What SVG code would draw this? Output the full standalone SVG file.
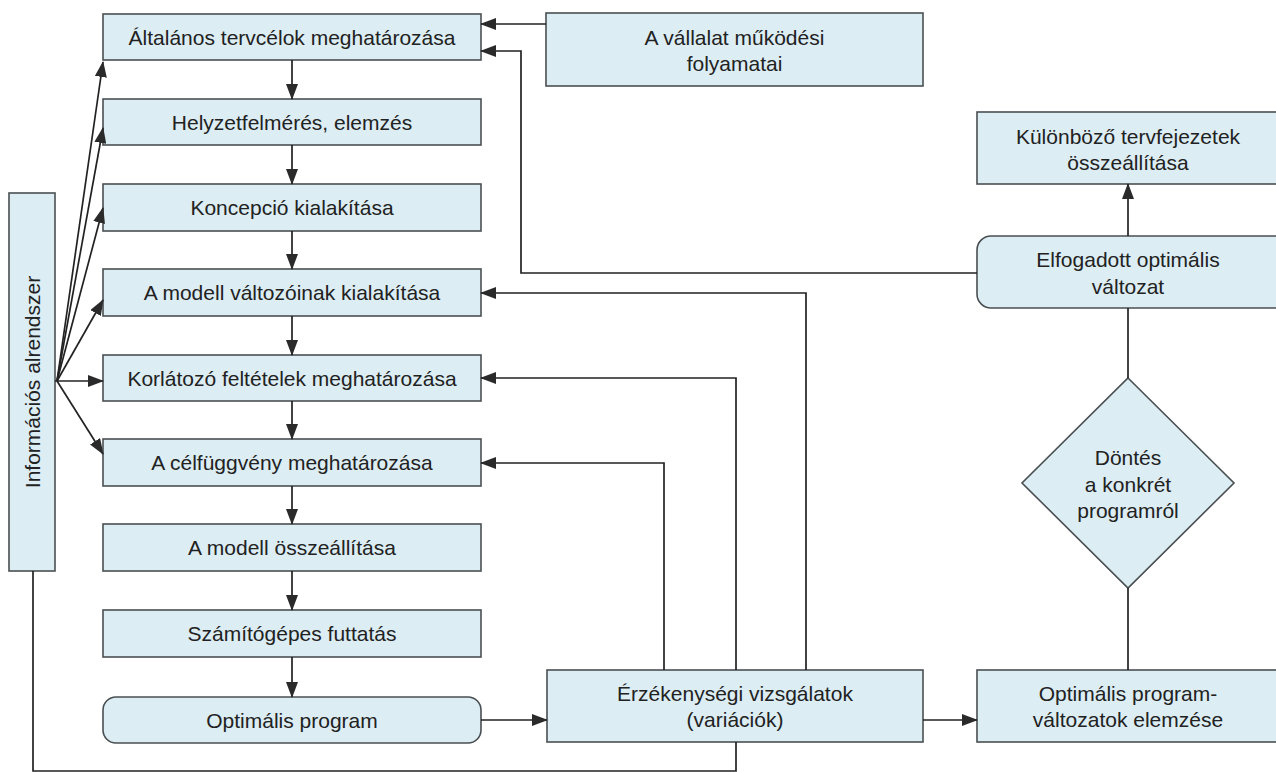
<svg xmlns="http://www.w3.org/2000/svg" width="1276" height="772" viewBox="0 0 1276 772">
<style>
.box{fill:#dcedf4;stroke:#4a4f52;stroke-width:1.6}
.t{font-family:"Liberation Sans",Arial,sans-serif;font-size:21px;fill:#222;text-anchor:middle}
.c{fill:none;stroke:#222;stroke-width:1.7}
</style>
<defs>
<marker id="ah" markerUnits="userSpaceOnUse" markerWidth="16" markerHeight="12" refX="15" refY="6" orient="auto">
<path d="M0,0 L16,6 L0,12 Z" fill="#2a2a2a"/>
</marker>
</defs>
<rect width="1276" height="772" fill="#fff"/>

<g id="n-info"><rect class="box" x="9" y="193" width="46" height="378"/><text class="t" transform="translate(40,382) rotate(-90)">Információs alrendszer</text></g>
<g id="n1"><rect class="box" x="103" y="14" width="378" height="46"/><text class="t" x="292" y="44.5">Általános tervcélok meghatározása</text></g>
<g id="n2"><rect class="box" x="103" y="99" width="378" height="46"/><text class="t" x="292" y="129.5">Helyzetfelmérés, elemzés</text></g>
<g id="n3"><rect class="box" x="103" y="184" width="378" height="47"/><text class="t" x="292" y="215">Koncepció kialakítása</text></g>
<g id="n4"><rect class="box" x="103" y="269" width="378" height="47"/><text class="t" x="292" y="300">A modell változóinak kialakítása</text></g>
<g id="n5"><rect class="box" x="103" y="355" width="378" height="46"/><text class="t" x="292" y="385.5">Korlátozó feltételek meghatározása</text></g>
<g id="n6"><rect class="box" x="103" y="439" width="378" height="47"/><text class="t" x="292" y="470">A célfüggvény meghatározása</text></g>
<g id="n7"><rect class="box" x="103" y="524" width="378" height="47"/><text class="t" x="292" y="555">A modell összeállítása</text></g>
<g id="n8"><rect class="box" x="103" y="610" width="378" height="47"/><text class="t" x="292" y="641">Számítógépes futtatás</text></g>
<g id="n9"><rect class="box" x="103" y="697" width="378" height="46" rx="13"/><text class="t" x="292" y="727.5">Optimális program</text></g>
<g id="n-vallalat"><rect class="box" x="546" y="13" width="377" height="73"/><text class="t" x="734.5" y="45">A vállalat működési</text><text class="t" x="734.5" y="71">folyamatai</text></g>
<g id="n-kulonbozo"><rect class="box" x="977" y="112" width="320" height="72"/><text class="t" x="1128" y="144">Különböző tervfejezetek</text><text class="t" x="1128" y="170">összeállítása</text></g>
<g id="n-elfogadott"><rect class="box" x="977" y="236" width="320" height="72" rx="14"/><text class="t" x="1128" y="267">Elfogadott optimális</text><text class="t" x="1128" y="294">változat</text></g>
<g id="n-dontes"><polygon class="box" points="1128,378 1234,483 1128,588 1022,483"/><text class="t" x="1128" y="465">Döntés</text><text class="t" x="1128" y="492">a konkrét</text><text class="t" x="1128" y="518">programról</text></g>
<g id="n-erzekenyseg"><rect class="box" x="547" y="670" width="376" height="72"/><text class="t" x="735" y="701">Érzékenységi vizsgálatok</text><text class="t" x="735" y="727">(variációk)</text></g>
<g id="n-valtozatok"><rect class="box" x="977" y="670" width="320" height="72"/><text class="t" x="1128" y="701">Optimális program-</text><text class="t" x="1128" y="727">változatok elemzése</text></g>

<g id="connectors">
<line class="c" x1="292" y1="60" x2="292" y2="99" marker-end="url(#ah)"/>
<line class="c" x1="292" y1="145" x2="292" y2="184" marker-end="url(#ah)"/>
<line class="c" x1="292" y1="231" x2="292" y2="269" marker-end="url(#ah)"/>
<line class="c" x1="292" y1="316" x2="292" y2="355" marker-end="url(#ah)"/>
<line class="c" x1="292" y1="401" x2="292" y2="439" marker-end="url(#ah)"/>
<line class="c" x1="292" y1="486" x2="292" y2="524" marker-end="url(#ah)"/>
<line class="c" x1="292" y1="571" x2="292" y2="610" marker-end="url(#ah)"/>
<line class="c" x1="292" y1="657" x2="292" y2="697" marker-end="url(#ah)"/>

<line class="c" x1="57" y1="381" x2="103" y2="62" marker-end="url(#ah)"/>
<line class="c" x1="57" y1="381" x2="103" y2="128" marker-end="url(#ah)"/>
<line class="c" x1="57" y1="381" x2="103" y2="208" marker-end="url(#ah)"/>
<line class="c" x1="57" y1="381" x2="103" y2="300" marker-end="url(#ah)"/>
<line class="c" x1="55" y1="381" x2="103" y2="381" marker-end="url(#ah)"/>
<line class="c" x1="57" y1="381" x2="103" y2="454" marker-end="url(#ah)"/>

<line class="c" x1="546" y1="24" x2="481" y2="24" marker-end="url(#ah)"/>
<polyline class="c" points="977,273 521,273 521,51 481,51" marker-end="url(#ah)"/>
<polyline class="c" points="806,670 806,293 481,293" marker-end="url(#ah)"/>
<polyline class="c" points="736,670 736,378 481,378" marker-end="url(#ah)"/>
<polyline class="c" points="664,670 664,463 481,463" marker-end="url(#ah)"/>

<line class="c" x1="481" y1="720" x2="547" y2="720" marker-end="url(#ah)"/>
<line class="c" x1="923" y1="720" x2="977" y2="720" marker-end="url(#ah)"/>
<line class="c" x1="1128" y1="670" x2="1128" y2="588"/>
<line class="c" x1="1128" y1="378" x2="1128" y2="308"/>
<line class="c" x1="1128" y1="236" x2="1128" y2="184" marker-end="url(#ah)"/>

<polyline class="c" points="33,571 33,771 736,771 736,742"/>
</g>
</svg>
